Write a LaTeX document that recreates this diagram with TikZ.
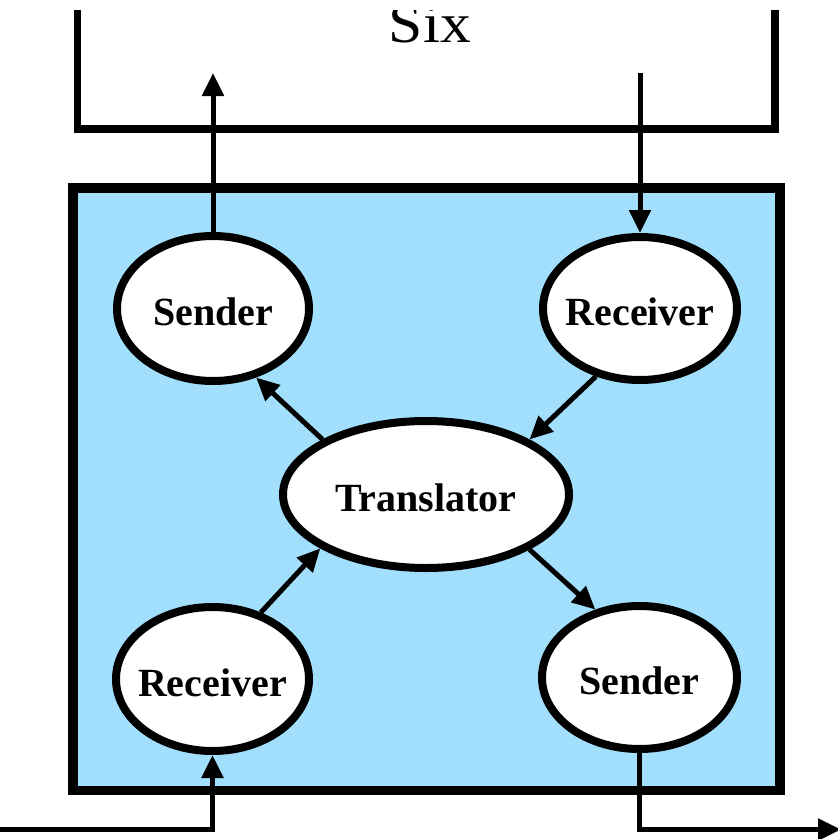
\documentclass[tikz,border=0pt]{standalone}
\usepackage{fontspec}
\setmainfont{Liberation Serif}
\usetikzlibrary{shapes.geometric,arrows.meta}
\definecolor{boxblue}{RGB}{161,223,252}
\tikzset{
  blob/.style={ellipse,draw=black,fill=white,line width=8pt,inner ysep=0pt,inner xsep=-40pt,
    text height=34pt,text depth=0pt,font=\fontsize{40}{40}\selectfont\bfseries},
  conn/.style={line width=5pt,-{Triangle[length=23pt,width=21pt]}},
  bracket/.style={line width=7.5pt},
  frame/.style={draw=black,fill=boxblue,line width=9.5pt}
}
\begin{document}
\begin{tikzpicture}[x=1pt,y=-1pt]
\useasboundingbox (0,0) rectangle (838,839);
% top bracket and its label
\begin{scope}
  \clip (0,10) rectangle (838,200);
  \draw[bracket] (77.5,0) -- (77.5,129) -- (775,129) -- (775,0);
  \node[anchor=base,xscale=1.1,font=\fontsize{56}{56}\selectfont] (six) at (430,42) {Six};
\end{scope}
% blue box
\draw[frame] (73,188) rectangle (780,790.5);
% nodes
\node[blob,minimum width=192pt,minimum height=145pt] (sTL) at (213,308.5) {Sender};
\node[blob,minimum width=194pt,minimum height=143pt] (rTR) at (640,308.5) {Receiver};
\node[blob,minimum width=286pt,minimum height=147pt] (tr) at (426,494.5) {Translator};
\node[blob,minimum width=193pt,minimum height=144pt] (rBL) at (212.5,679) {Receiver};
\node[blob,minimum width=195pt,minimum height=143pt] (sBR) at (639.5,677.5) {Sender};
% free ends
\coordinate (topY) at (0,73);
\coordinate (inL) at (0,829.5);
\coordinate (outR) at (841,829.5);
% connectors
\draw[conn] (sTL.north) -- (sTL.north |- topY);
\draw[conn] (rTR.north |- topY) -- (rTR.north);
\draw[conn] (tr.152.4) -- (sTL.302.4);
\draw[conn] (rTR.237.6) -- (tr.28);
\draw[conn] (rBL.54.6) -- (tr.207.7);
\draw[conn] (tr.332.2) -- (sBR.123.3);
\draw[conn,line width=5.5pt] (inL) -| (rBL.south);
\draw[conn,line width=5.5pt] (sBR.south) |- (outR);
\end{tikzpicture}
\end{document}
